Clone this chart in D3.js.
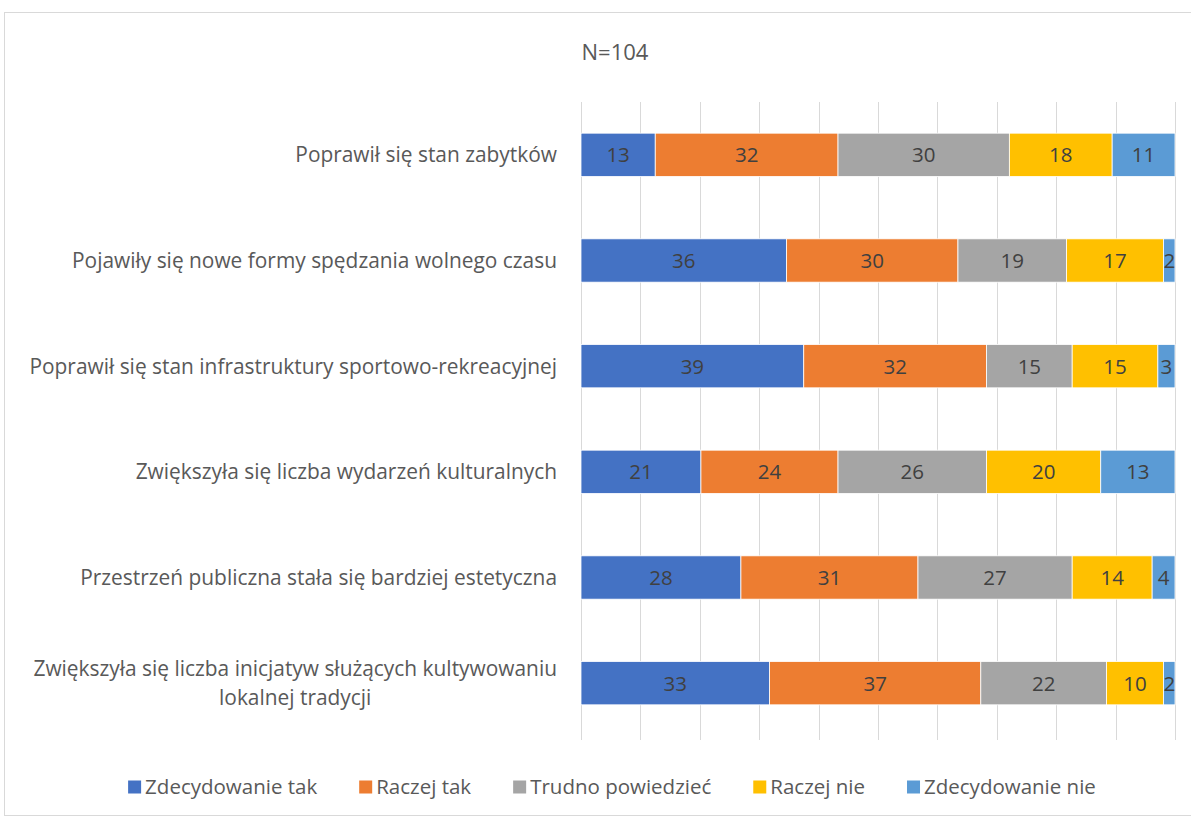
<!DOCTYPE html>
<html>
<head>
  <meta charset="utf-8">
  <title>N=104</title>
  <script src="https://d3js.org/d3.v7.min.js"></script>
  <style>
    body { margin: 0; background: #fff; }
    svg text { font-family: "Open Sans", "Noto Sans", sans-serif; }
  </style>
</head>
<body>
  <svg width="1191" height="819"></svg>
  <script>
    // dane
    const categories = [
      "Poprawił się stan zabytków",
      "Pojawiły się nowe formy spędzania wolnego czasu",
      "Poprawił się stan infrastruktury sportowo-rekreacyjnej",
      "Zwiększyła się liczba wydarzeń kulturalnych",
      "Przestrzeń publiczna stała się bardziej estetyczna",
      "Zwiększyła się liczba inicjatyw służących kultywowaniu|lokalnej tradycji"
    ];
    const seriesNames = ["Zdecydowanie tak", "Raczej tak", "Trudno powiedzieć", "Raczej nie", "Zdecydowanie nie"];
    const zdecydowanieTak = [13, 36, 39, 21, 28, 33];
    const raczejTak = [32, 30, 32, 24, 31, 37];
    const trudnoPowiedziec = [30, 19, 15, 26, 27, 22];
    const raczejNie = [18, 17, 15, 20, 14, 10];
    const zdecydowanieNie = [11, 2, 3, 13, 4, 2];
    const colors = ["#4472C4", "#ED7D31", "#A5A5A5", "#FFC000", "#5B9BD5"];
    const xTicks = [0, 0.1, 0.2, 0.3, 0.4, 0.5, 0.6, 0.7, 0.8, 0.9, 1];

    const seriesValues = [zdecydowanieTak, raczejTak, trudnoPowiedziec, raczejNie, zdecydowanieNie];
    const rows = categories.map((c, i) => {
      const r = { cat: c };
      seriesNames.forEach((s, j) => r[s] = seriesValues[j][i]);
      return r;
    });

    const svg = d3.select("svg");
    const fs = 20.5;

    // ramka wykresu
    svg.append("rect")
      .attr("x", 4.5).attr("y", 12.5)
      .attr("width", 1200).attr("height", 803)
      .attr("fill", "none").attr("stroke", "#d9d9d9");

    svg.append("text")
      .attr("x", 615).attr("y", 60)
      .attr("text-anchor", "middle")
      .attr("font-size", 22)
      .attr("fill", "#595959")
      .text("N=104");

    const x = d3.scaleLinear().domain([0, 1]).range([581, 1175]);
    const y = d3.scaleBand().domain(categories).range([102, 736]).paddingInner(0.59).paddingOuter(0.295);

    // siatka
    svg.append("g").selectAll("line")
      .data(xTicks)
      .join("line")
      .attr("x1", d => Math.round(x(d)) + 0.5).attr("x2", d => Math.round(x(d)) + 0.5)
      .attr("y1", 102).attr("y2", 740)
      .attr("stroke", "#d9d9d9").attr("stroke-width", 1);

    const stack = d3.stack().keys(seriesNames).offset(d3.stackOffsetExpand);
    const series = stack(rows);

    const layer = svg.append("g").selectAll("g")
      .data(series)
      .join("g")
      .attr("fill", (d, i) => colors[i]);

    layer.selectAll("rect")
      .data(d => d)
      .join("rect")
      .attr("x", d => x(d[0]))
      .attr("y", d => y(d.data.cat))
      .attr("width", d => x(d[1]) - x(d[0]))
      .attr("height", y.bandwidth())
      .attr("stroke", "#fff").attr("stroke-width", 0.8);

    // etykiety danych
    layer.selectAll("text")
      .data(d => d.map(v => ({ v, key: d.key })))
      .join("text")
      .attr("x", d => (x(d.v[0]) + x(d.v[1])) / 2)
      .attr("y", d => y(d.v.data.cat) + y.bandwidth() / 2)
      .attr("dy", "0.36em")
      .attr("text-anchor", "middle")
      .attr("font-size", fs)
      .attr("fill", "#404040")
      .text(d => d.v.data[d.key]);

    // etykiety kategorii
    const labels = svg.append("g").selectAll("text")
      .data(categories)
      .join("text")
      .attr("font-size", 20.9)
      .attr("fill", "#595959");

    labels.each(function (c) {
      const t = d3.select(this);
      const lines = c.split("|");
      const cy = y(c) + y.bandwidth() / 2;
      const lh = 29;
      const spans = lines.map((l, k) => t.append("tspan")
        .attr("y", cy + (k - (lines.length - 1) / 2) * lh)
        .attr("dy", "0.36em")
        .text(l));
      const w = d3.max(spans, s => s.node().getComputedTextLength());
      t.attr("text-anchor", "middle");
      spans.forEach(s => s.attr("x", 557 - w / 2));
    });

    // legenda
    const legend = svg.append("g");
    const gap = 42;
    let lx = 0;
    seriesNames.forEach((s, i) => {
      const g = legend.append("g");
      g.append("rect").attr("width", 13).attr("height", 13).attr("y", -6.5).attr("fill", colors[i]);
      const tx = g.append("text").attr("x", 17).attr("dy", "0.36em")
        .attr("font-size", fs).attr("fill", "#595959").text(s);
      const w = 17 + tx.node().getComputedTextLength();
      g.attr("transform", `translate(${lx},0)`);
      lx += w + gap;
    });
    const total = lx - gap;
    legend.attr("transform", `translate(${612 - total / 2},787)`);
  </script>
</body>
</html>
